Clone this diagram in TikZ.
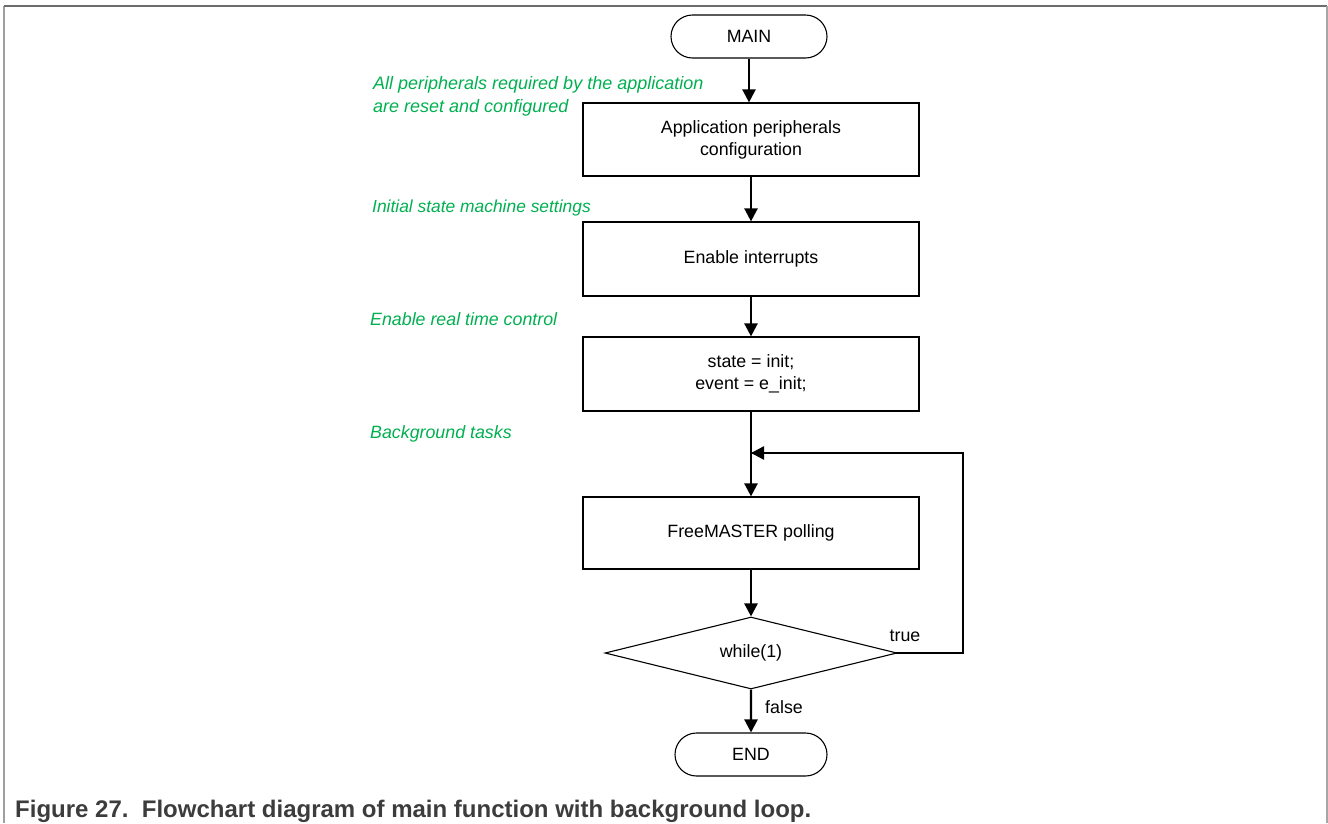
\documentclass[tikz,border=0pt]{standalone}
\usepackage{fontspec}
\setmainfont{Liberation Sans}
\usetikzlibrary{shapes.geometric,shapes.misc,arrows.meta}
\definecolor{notegreen}{RGB}{0,176,80}
\definecolor{captiongray}{RGB}{60,60,60}
\tikzset{
  base/.style={font=\fontsize{17.8}{22}\selectfont, text=black},
  procbox/.style={base, draw=black, line width=1.2pt, rectangle,
    minimum width=336pt, minimum height=73pt, align=center, inner sep=0pt},
  termbox/.style={base, draw=black, line width=1.1pt, rounded rectangle,
    minimum height=43pt, inner sep=0pt},
  decision/.style={base, draw=black, line width=1.1pt, diamond, aspect=4,
    minimum width=292pt, minimum height=72pt, inner sep=0pt},
  flow/.style={line width=2.4pt, -{Triangle[length=13pt,width=13pt]}},
  note/.style={font=\fontsize{18}{23.5}\selectfont\itshape, text=notegreen,
    anchor=base west, inner sep=0pt, align=left},
  edgelabel/.style={base, inner sep=0pt},
}
\begin{document}
\begin{tikzpicture}[x=1pt,y=-1pt]
  \useasboundingbox (0,0) rectangle (1328,823);
  % frame around the figure
  \draw[line width=2pt, draw=gray!75] (4,823) -- (4,6);
  \draw[line width=2pt, draw=gray!85!black] (4,6) -- (1327,6);
  \draw[line width=2pt, draw=gray!70] (1327,6) -- (1327,823);

  % flow nodes
  \node[termbox, minimum width=156pt] (main) at (749,36.5) {MAIN};
  \node[procbox] (cfg) at (751,139.5) {Application peripherals\\configuration};
  \node[procbox, minimum height=74pt] (irq) at (751,259) {Enable interrupts};
  \node[procbox, minimum height=74pt] (init) at (751,374) {state = init;\\event = e\_init;};
  \node[procbox, minimum height=72pt] (poll) at (751,533) {FreeMASTER polling};
  \node[decision] (loop) at (751,653) {while(1)};
  \node[termbox, minimum width=152pt] (end) at (751,754.5) {END};

  % side notes (anchored at the baseline of the last line)
  \node[note] (n1) at (373,112.5) {All peripherals required by the application\\are reset and configured};
  \node[note, font=\fontsize{17.4}{22}\selectfont\itshape] (n2) at (372,212) {Initial state machine settings};
  \node[note, font=\fontsize{17.8}{22}\selectfont\itshape] (n3) at (370,325) {Enable real time control};
  \node[note, font=\fontsize{17.8}{22}\selectfont\itshape] (n4) at (370,438) {Background tasks};

  % connectors
  \coordinate (join) at (751,453);
  \coordinate (back) at (963,453);
  \draw[flow] (main.south -| 749,0) -- (cfg.north -| 749,0);
  \draw[flow] (cfg) -- (irq);
  \draw[flow] (irq) -- (init);
  \draw[flow] (init) -- (poll);
  \draw[flow] (poll) -- (loop);
  \draw[flow] (loop) -- (end);
  \draw[line width=2.4pt, line cap=rect] (loop.east) -| (back) -- (join);
  \draw[flow] (back) -- (join);

  \node[edgelabel] (ltrue) at (905,636) {true};
  \node[edgelabel] (lfalse) at (784,707) {false};

  % caption
  \node[anchor=base west, inner sep=0pt, text=captiongray,
    font=\fontsize{24}{28}\selectfont\bfseries] (cap) at (15,817)
    {Figure 27.\ \ Flowchart diagram of main function with background loop.};
\end{tikzpicture}
\end{document}
